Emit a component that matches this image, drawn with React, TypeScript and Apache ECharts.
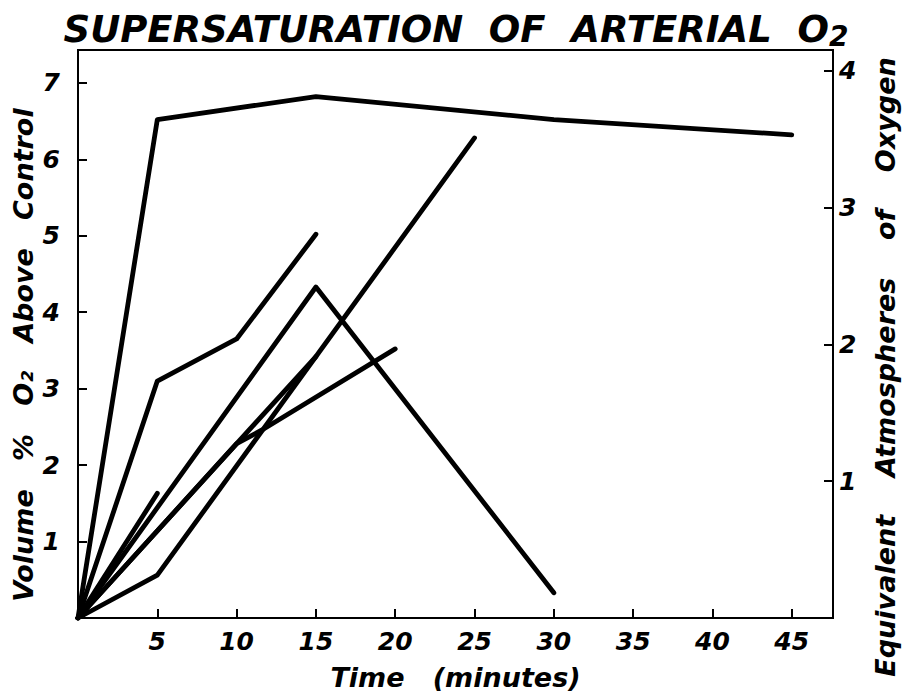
import React, { useEffect, useRef } from "react";
import * as echarts from "echarts";

// Time (minutes) / Volume % O2 above control, one array per experiment
const seriesA: [number, number][] = [[0, 0], [5, 6.52], [15, 6.82], [30, 6.52], [45, 6.32]];
const seriesB: [number, number][] = [[0, 0], [5, 3.1], [10, 3.65], [15, 5.02]];
const seriesC: [number, number][] = [[0, 0], [15, 4.33], [30, 0.33]];
const seriesD: [number, number][] = [[0, 0], [5, 0.56], [25, 6.28]];
const seriesE: [number, number][] = [[0, 0], [5, 1.63]];
const seriesF: [number, number][] = [[0, 0], [15, 3.42]];
const seriesG: [number, number][] = [[0, 0], [10, 2.28], [11.6, 2.46], [20, 3.52]];

const allSeries = [seriesA, seriesB, seriesC, seriesD, seriesE, seriesF, seriesG];

const xTicks = [5, 10, 15, 20, 25, 30, 35, 40, 45];
const leftTicks = [1, 2, 3, 4, 5, 6, 7];
const rightTicks = [1, 2, 3, 4];

const FONT = "DejaVu Sans";

export default function App() {
  const ref = useRef<HTMLDivElement>(null);
  useEffect(() => {
    if (!ref.current) return;
    const chart = echarts.init(ref.current, null, { renderer: "svg" });
    const labelStyle = {
      color: "#000",
      fontFamily: FONT,
      fontWeight: "bold" as const,
      fontStyle: "italic" as const,
      fontSize: 25,
    };
    const nameStyle = {
      fill: "#000",
      fontFamily: FONT,
      fontWeight: "bold" as const,
      fontStyle: "italic" as const,
      fontSize: 27,
      align: "center" as const,
      verticalAlign: "middle" as const,
    };
    chart.setOption({
      animation: false,
      backgroundColor: "#fff",
      title: {
        text: "SUPERSATURATION  OF  ARTERIAL  O{sub|2}",
        left: 451,
        textAlign: "center",
        top: 3,
        textStyle: {
          color: "#000",
          fontFamily: FONT,
          fontWeight: "bold",
          fontStyle: "italic",
          fontSize: 37,
          rich: {
            sub: {
              fontFamily: FONT,
              fontWeight: "bold",
              fontStyle: "italic",
              fontSize: 28,
              color: "#000",
              padding: [14, 0, 0, 0],
            },
          },
        },
      },
      graphic: [
        {
          type: "text",
          x: 23,
          y: 355,
          rotation: Math.PI / 2,
          style: { ...nameStyle, text: "Volume   %   O₂   Above   Control" },
        },
        {
          type: "text",
          x: 885,
          y: 367,
          rotation: Math.PI / 2,
          style: { ...nameStyle, text: "Equivalent    Atmospheres    of    Oxygen" },
        },
      ],
      grid: {
        left: 78,
        right: 74,
        top: 50,
        bottom: 59,
        show: true,
        borderColor: "#000",
        borderWidth: 2,
      },
      xAxis: {
        type: "value",
        min: 0,
        max: 47.6,
        interval: 5,
        name: "Time   (minutes)",
        nameLocation: "middle",
        nameGap: 46,
        nameTextStyle: {
          color: "#000",
          fontFamily: FONT,
          fontWeight: "bold",
          fontStyle: "italic",
          fontSize: 27,
        },
        axisLine: { show: true, lineStyle: { color: "#000", width: 2 } },
        axisTick: { show: true, inside: true, length: 9, lineStyle: { color: "#000", width: 2 } },
        axisLabel: {
          ...labelStyle,
          margin: 11,
          showMaxLabel: false,
          formatter: (v: number) => (xTicks.includes(v) ? String(v) : ""),
        },
        splitLine: { show: false },
      },
      yAxis: [
        {
          type: "value",
          min: 0,
          max: 7.43,
          interval: 1,
          position: "left",
          axisLine: { show: true, lineStyle: { color: "#000", width: 2 } },
          axisTick: { show: true, inside: true, length: 9, lineStyle: { color: "#000", width: 2 } },
          axisLabel: {
            ...labelStyle,
            margin: 18,
            showMaxLabel: false,
            formatter: (v: number) => (leftTicks.includes(v) ? String(v) : ""),
          },
          splitLine: { show: false },
        },
        {
          type: "value",
          min: 0,
          max: 4.15,
          interval: 1,
          position: "right",
          axisLine: { show: true, lineStyle: { color: "#000", width: 2 } },
          axisTick: { show: true, inside: true, length: 9, lineStyle: { color: "#000", width: 2 } },
          axisLabel: {
            ...labelStyle,
            margin: 6,
            showMaxLabel: false,
            formatter: (v: number) => (rightTicks.includes(v) ? String(v) : ""),
          },
          splitLine: { show: false },
        },
      ],
      series: allSeries.map((d) => ({
        type: "line",
        data: d,
        xAxisIndex: 0,
        yAxisIndex: 0,
        showSymbol: false,
        symbol: "none",
        lineStyle: { color: "#000", width: 4.8, cap: "round", join: "round" },
        silent: true,
      })),
    });
    return () => chart.dispose();
  }, []);
  return (
    <div
      ref={ref}
      style={{ position: "fixed", left: 0, top: 0, width: 907, height: 696, background: "#fff" }}
    />
  );
}
